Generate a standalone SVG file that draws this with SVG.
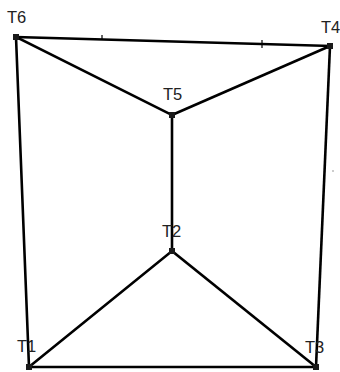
<svg xmlns="http://www.w3.org/2000/svg" width="340" height="372" viewBox="0 0 340 372">
<style>
.e{stroke:#000;stroke-width:2.6;fill:none;stroke-linecap:square}
.t{stroke:#000;stroke-width:1.2}
.n{fill:#1a1a1a}
.l{font-family:"Liberation Sans",Arial,sans-serif;font-size:16.5px;fill:#222}
</style>
<rect width="340" height="372" fill="#fff"/>
<g id="connectors">
<line class="e" x1="16" y1="37" x2="330" y2="46"/>
<line class="e" x1="16" y1="37" x2="172" y2="115"/>
<line class="e" x1="330" y1="46" x2="172" y2="115"/>
<line class="e" x1="172" y1="115" x2="172" y2="251"/>
<line class="e" x1="172" y1="251" x2="29" y2="367"/>
<line class="e" x1="172" y1="251" x2="316" y2="367"/>
<line class="e" x1="16" y1="37" x2="29" y2="367"/>
<line class="e" x1="330" y1="46" x2="316" y2="367"/>
<line class="e" x1="29" y1="367" x2="316" y2="367"/>
<line class="t" x1="102" y1="35" x2="102" y2="40"/>
<line class="t" x1="262" y1="40" x2="262" y2="48"/>
</g>
<rect x="332.5" y="170" width="1" height="2" fill="#999"/>
<g id="T6"><rect class="n" x="13" y="34" width="6" height="6"/><text class="l" x="7" y="23">T6</text></g>
<g id="T4"><rect class="n" x="327" y="43" width="6" height="6"/><text class="l" x="321" y="33">T4</text></g>
<g id="T5"><rect class="n" x="169" y="112" width="6" height="6"/><text class="l" x="163" y="100">T5</text></g>
<g id="T2"><rect class="n" x="169" y="248" width="6" height="6"/><text class="l" x="162" y="237">T2</text></g>
<g id="T1"><rect class="n" x="26" y="364" width="6" height="6"/><text class="l" x="17" y="352">T1</text></g>
<g id="T3"><rect class="n" x="313" y="364" width="6" height="6"/><text class="l" x="305" y="353">T3</text></g>
</svg>
